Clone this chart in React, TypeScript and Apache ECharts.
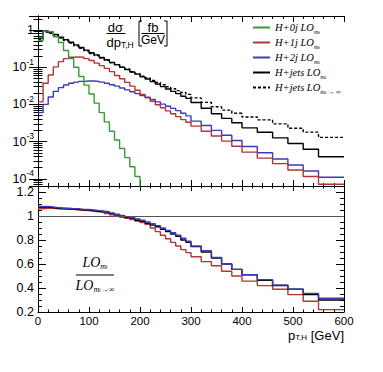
import React, { useEffect, useRef } from 'react';
import * as echarts from 'echarts';

// bin edges of p_T,H in GeV
const binEdges = [0, 10, 20, 30, 40, 50, 60, 70, 80, 90, 100, 110, 120, 130, 140, 150, 160, 170, 180, 190, 200,
  210, 220, 230, 240, 250, 260, 270, 280, 290, 300, 320, 340, 360, 380, 400, 430, 460, 490, 520, 550, 600];

// dσ/dp_T,H [fb/GeV]
const h0j = [0.52, 0.95, 0.90, 0.66, 0.46, 0.28, 0.17, 0.10, 0.056, 0.033, 0.019, 0.0108, 0.006, 0.0034, 0.0019,
  0.0011, 6.5e-4, 3.7e-4, 2.1e-4, 1.15e-4, 4e-5];
const h1j = [0.0117, 0.037, 0.062, 0.102, 0.141, 0.170, 0.186, 0.19, 0.186, 0.170, 0.151, 0.129, 0.110, 0.093, 0.076,
  0.060, 0.049, 0.039, 0.031, 0.024, 0.0185, 0.0150, 0.0121, 0.0098, 0.0081, 0.0067, 0.0056, 0.0047, 0.0039, 0.0033,
  0.0026, 0.0019, 0.00141, 0.00103, 0.00075, 5.2e-4, 3.6e-4, 2.55e-4, 1.73e-4, 1.15e-4, 7.1e-5];
const h2j = [0.006, 0.010, 0.0158, 0.0224, 0.0282, 0.0331, 0.0372, 0.0398, 0.0417, 0.0427, 0.0427, 0.0417, 0.0398,
  0.0372, 0.0339, 0.0309, 0.0275, 0.0245, 0.0219, 0.0195, 0.0174, 0.0155, 0.0135, 0.0117, 0.0102, 0.0089, 0.0078,
  0.0068, 0.0058, 0.0049, 0.00355, 0.0027, 0.0020, 0.00148, 0.00107, 7.4e-4, 5.0e-4, 3.4e-4, 2.34e-4, 1.62e-4, 1.1e-4];
const hJets = [0.60, 0.955, 0.87, 0.76, 0.645, 0.55, 0.468, 0.398, 0.339, 0.288, 0.245, 0.214, 0.182, 0.158, 0.135,
  0.117, 0.100, 0.087, 0.074, 0.065, 0.055, 0.048, 0.041, 0.0355, 0.030, 0.026, 0.0224, 0.0195, 0.0166, 0.0145,
  0.0112, 0.0079, 0.0056, 0.0042, 0.0032, 0.00234, 0.00178, 0.00126, 8.9e-4, 6.2e-4, 3.9e-4];
const hJetsInf = [0.558, 0.888, 0.813, 0.714, 0.608, 0.519, 0.444, 0.377, 0.323, 0.274, 0.234, 0.206, 0.176, 0.153,
  0.132, 0.116, 0.100, 0.0879, 0.0755, 0.0674, 0.0576, 0.0511, 0.0443, 0.0390, 0.0337, 0.0299, 0.0264, 0.0235, 0.0208,
  0.0186, 0.0150, 0.0113, 0.00862, 0.0070, 0.00577, 0.00459, 0.00383, 0.0030, 0.00228, 0.0018, 0.0013];

// ratio LO_mt / LO_mt->inf
const r0j = [1.07, 1.07, 1.07, 1.065, 1.065, 1.06, 1.06, 1.055, 1.05, 1.05, 1.045, 1.04, 1.035, 1.03, 1.02, 1.01, 1.0,
  0.99, 0.98, 0.97];
const r1j = [1.06, 1.065, 1.065, 1.06, 1.06, 1.055, 1.055, 1.05, 1.05, 1.045, 1.04, 1.035, 1.03, 1.02, 1.01, 1.0, 0.99,
  0.98, 0.97, 0.958, 0.945, 0.93, 0.90, 0.87, 0.84, 0.81, 0.78, 0.75, 0.72, 0.695, 0.66, 0.62, 0.585, 0.54, 0.50, 0.457,
  0.42, 0.39, 0.345, 0.29, 0.22];
const r2j = [1.08, 1.08, 1.075, 1.07, 1.065, 1.065, 1.06, 1.06, 1.055, 1.055, 1.05, 1.045, 1.04, 1.035, 1.025, 1.015,
  1.005, 0.995, 0.985, 0.975, 0.965, 0.95, 0.935, 0.92, 0.90, 0.88, 0.86, 0.84, 0.815, 0.79, 0.75, 0.71, 0.655, 0.60,
  0.555, 0.51, 0.47, 0.425, 0.39, 0.355, 0.315];
const rJets = [1.075, 1.075, 1.07, 1.065, 1.06, 1.06, 1.055, 1.055, 1.05, 1.05, 1.045, 1.04, 1.035, 1.03, 1.02, 1.01,
  1.0, 0.99, 0.98, 0.965, 0.955, 0.94, 0.925, 0.91, 0.89, 0.87, 0.85, 0.83, 0.80, 0.78, 0.745, 0.70, 0.65, 0.60, 0.555,
  0.51, 0.465, 0.42, 0.39, 0.345, 0.30];

const xMin = 0;
const xMax = 600;
const xStep = 100;
const logMin = 6.4e-5;
const logMax = 2.38;
const ratioMin = 0.2;
const ratioMax = 1.25;
const ratioStep = 0.2;

const GREEN = '#3a9a3a';
const RED = '#b23434';
const BLUE = '#3b3bb8';
const BLACK = '#000000';

const legendNames = ['H+0j', 'H+1j', 'H+2j', 'H+jets', 'H+jets inf'];
const legendRich: Record<string, string> = {
  'H+0j': '{i|H+0j LO}{s|m}{ss|t}',
  'H+1j': '{i|H+1j LO}{s|m}{ss|t}',
  'H+2j': '{i|H+2j LO}{s|m}{ss|t}',
  'H+jets': '{i|H+jets LO}{s|m}{ss|t}',
  'H+jets inf': '{i|H+jets LO}{s|m}{ss|t}{s| → ∞}',
};

function hist(vals: number[]) {
  const d: number[][] = vals.map((v, i) => [binEdges[i], v]);
  d.push([binEdges[vals.length], vals[vals.length - 1]]);
  return d;
}

const SANS = 'Liberation Sans, Arial, sans-serif';
const SERIF = 'Liberation Serif, Times New Roman, serif';

export default function App() {
  const ref = useRef<HTMLDivElement>(null);
  useEffect(() => {
    if (!ref.current) return;
    const chart = echarts.init(ref.current, undefined, { renderer: 'svg' });

    const line = (name: string, vals: number[], color: string, xi: number, yi: number, z: number, dashed = false) => ({
      name,
      type: 'line',
      xAxisIndex: xi,
      yAxisIndex: yi,
      step: 'end',
      data: hist(vals),
      symbol: 'none',
      silent: true,
      z,
      lineStyle: { color, width: 1.4, type: dashed ? [3, 2] : 'solid' },
      itemStyle: { color },
    });

    const xBase = (gi: number, pos: string, labels: boolean, tickLen: number) => ({
      type: 'value',
      gridIndex: gi,
      position: pos,
      min: xMin,
      max: xMax,
      interval: xStep,
      axisLine: { show: true, onZero: false, lineStyle: { color: '#000', width: 1 } },
      axisTick: { show: true, inside: true, length: tickLen, lineStyle: { color: '#000' } },
      minorTick: { show: true, splitNumber: 5, length: tickLen / 2, lineStyle: { color: '#000' } },
      splitLine: { show: false },
      axisLabel: labels
        ? { show: true, color: '#000', fontFamily: SANS, fontSize: 11.5, lineHeight: 11.5, margin: 3 }
        : { show: false },
    });

    const logLabel = (v: number) => {
      const l = Math.log10(v);
      const e = Math.round(l);
      if (Math.abs(l - e) > 1e-3) return '';
      if (e === 0) return '{b|1}';
      return '{b|10}{s|' + e + '}';
    };

    const logAxis = (pos: string, labels: boolean) => ({
      type: 'log',
      logBase: 10,
      gridIndex: 0,
      position: pos,
      min: logMin,
      max: logMax,
      axisLine: { show: true, lineStyle: { color: '#000', width: 1 } },
      axisTick: { show: true, inside: true, length: 9, lineStyle: { color: '#000' } },
      minorTick: { show: true, splitNumber: 9, length: 4.5, lineStyle: { color: '#000' } },
      splitLine: { show: false },
      axisLabel: labels
        ? {
            show: true,
            margin: 4,
            showMinLabel: false,
            showMaxLabel: false,
            formatter: logLabel,
            rich: {
              b: { fontFamily: SANS, fontSize: 12.5, color: '#000', lineHeight: 20 },
              s: { fontFamily: SANS, fontSize: 8.5, color: '#000', lineHeight: 9, verticalAlign: 'top' },
            },
          }
        : { show: false },
    });

    const ratioAxis = (pos: string, labels: boolean) => ({
      type: 'value',
      gridIndex: 1,
      position: pos,
      min: ratioMin,
      max: ratioMax,
      interval: ratioStep,
      axisLine: { show: true, onZero: false, lineStyle: { color: '#000', width: 1 } },
      axisTick: { show: true, inside: true, length: 8, lineStyle: { color: '#000' } },
      minorTick: { show: true, splitNumber: 4, length: 4, lineStyle: { color: '#000' } },
      splitLine: { show: false },
      axisLabel: labels
        ? { show: true, color: '#000', fontFamily: SANS, fontSize: 12.5, margin: 4, showMaxLabel: false }
        : { show: false },
    });

    const ratioSeries: any = line('ratio jets', rJets, BLACK, 2, 2, 3);
    ratioSeries.markLine = {
      silent: true,
      symbol: 'none',
      label: { show: false },
      lineStyle: { color: '#555', width: 1, type: 'solid' },
      data: [{ yAxis: 1 }],
    };

    const serifRich = {
      i: { fontFamily: SERIF, fontStyle: 'italic', fontSize: 14, lineHeight: 16, fill: '#000' },
      s: { fontFamily: SERIF, fontStyle: 'italic', fontSize: 8, lineHeight: 8, verticalAlign: 'bottom', fill: '#000' },
      ss: { fontFamily: SERIF, fontStyle: 'italic', fontSize: 5.5, lineHeight: 5, verticalAlign: 'bottom', fill: '#000' },
    };

    const option: any = {
      animation: false,
      backgroundColor: '#fff',
      grid: [
        { left: 38, width: 306, top: 16, height: 170, containLabel: false, outerBoundsMode: 'none' },
        { left: 38, width: 306, top: 186, height: 126, containLabel: false, outerBoundsMode: 'none' },
      ],
      legend: {
        data: legendNames,
        orient: 'vertical',
        left: 247,
        top: 17,
        itemWidth: 17,
        itemHeight: 10,
        itemGap: 2.5,
        selectedMode: false,
        itemStyle: { opacity: 0 },
        formatter: (n: string) => legendRich[n],
        textStyle: {
          rich: {
            i: { fontFamily: SERIF, fontStyle: 'italic', fontSize: 10.5, lineHeight: 14, color: '#000' },
            s: { fontFamily: SERIF, fontStyle: 'italic', fontSize: 6.5, lineHeight: 7, verticalAlign: 'bottom', color: '#000' },
            ss: { fontFamily: SERIF, fontStyle: 'italic', fontSize: 4.5, lineHeight: 4, verticalAlign: 'bottom', color: '#000' },
          },
        },
      },
      xAxis: [
        xBase(0, 'bottom', false, 6),
        xBase(0, 'top', false, 6),
        xBase(1, 'bottom', true, 5),
        xBase(1, 'top', false, 5),
      ],
      yAxis: [logAxis('left', true), logAxis('right', false), ratioAxis('left', true), ratioAxis('right', false)],
      series: [
        line('H+jets', hJets, BLACK, 0, 0, 3),
        line('H+jets inf', hJetsInf, BLACK, 0, 0, 3, true),
        line('H+2j', h2j, BLUE, 0, 0, 4),
        line('H+1j', h1j, RED, 0, 0, 5),
        line('H+0j', h0j, GREEN, 0, 0, 6),
        line('ratio 0j', r0j, GREEN, 2, 2, 2),
        line('ratio 1j', r1j, RED, 2, 2, 2),
        ratioSeries,
        line('ratio 2j', r2j, BLUE, 2, 2, 4),
      ],
      graphic: [
        { type: 'text', style: { text: 'dσ', x: 115.5, y: 27, align: 'center', verticalAlign: 'middle', font: '13px ' + SANS, fill: '#000' } },
        { type: 'line', shape: { x1: 106.5, y1: 33.5, x2: 125.5, y2: 33.5 }, style: { stroke: '#000', lineWidth: 1 } },
        {
          type: 'text',
          style: {
            text: '{a|dp}{s|T,H}',
            x: 106.5,
            y: 36,
            align: 'left',
            verticalAlign: 'top',
            rich: {
              a: { fontFamily: SANS, fontSize: 13, lineHeight: 13, fill: '#000' },
              s: { fontFamily: SANS, fontSize: 8.5, lineHeight: 8, verticalAlign: 'bottom', fill: '#000' },
            },
          },
        },
        { type: 'polyline', shape: { points: [[142, 21], [139, 21], [139, 46], [142, 46]] }, style: { stroke: '#000', lineWidth: 1, fill: 'none' } },
        { type: 'polyline', shape: { points: [[164, 21], [167, 21], [167, 46], [164, 46]] }, style: { stroke: '#000', lineWidth: 1, fill: 'none' } },
        { type: 'text', style: { text: 'fb', x: 153, y: 27, align: 'center', verticalAlign: 'middle', font: '13px ' + SANS, fill: '#000' } },
        { type: 'line', shape: { x1: 141.5, y1: 33.5, x2: 164.5, y2: 33.5 }, style: { stroke: '#000', lineWidth: 1 } },
        { type: 'text', style: { text: 'GeV', x: 153, y: 40, align: 'center', verticalAlign: 'middle', font: '12px ' + SANS, fill: '#000' } },
        {
          type: 'text',
          style: {
            text: '{m|p}{s|T,H}{m| [GeV]}',
            x: 344,
            y: 329.5,
            align: 'right',
            verticalAlign: 'top',
            rich: {
              m: { fontFamily: SANS, fontSize: 13, fill: '#000', lineHeight: 12 },
              s: { fontFamily: SANS, fontSize: 8, fill: '#000', lineHeight: 7, verticalAlign: 'bottom' },
            },
          },
        },
        {
          type: 'text',
          style: { text: '{i|LO}{s|m}{ss|t}', x: 95, y: 270, align: 'center', verticalAlign: 'bottom', rich: serifRich },
        },
        { type: 'line', shape: { x1: 76, y1: 275, x2: 114, y2: 275 }, style: { stroke: '#000', lineWidth: 1 } },
        {
          type: 'text',
          style: { text: '{i|LO}{s|m}{ss|t}{s|→∞}', x: 95, y: 277, align: 'center', verticalAlign: 'top', rich: serifRich },
        },
      ],
    };
    chart.setOption(option);
    return () => chart.dispose();
  }, []);
  return <div ref={ref} style={{ position: 'fixed', left: 0, top: 0, width: 383, height: 372, background: '#fff' }} />;
}
